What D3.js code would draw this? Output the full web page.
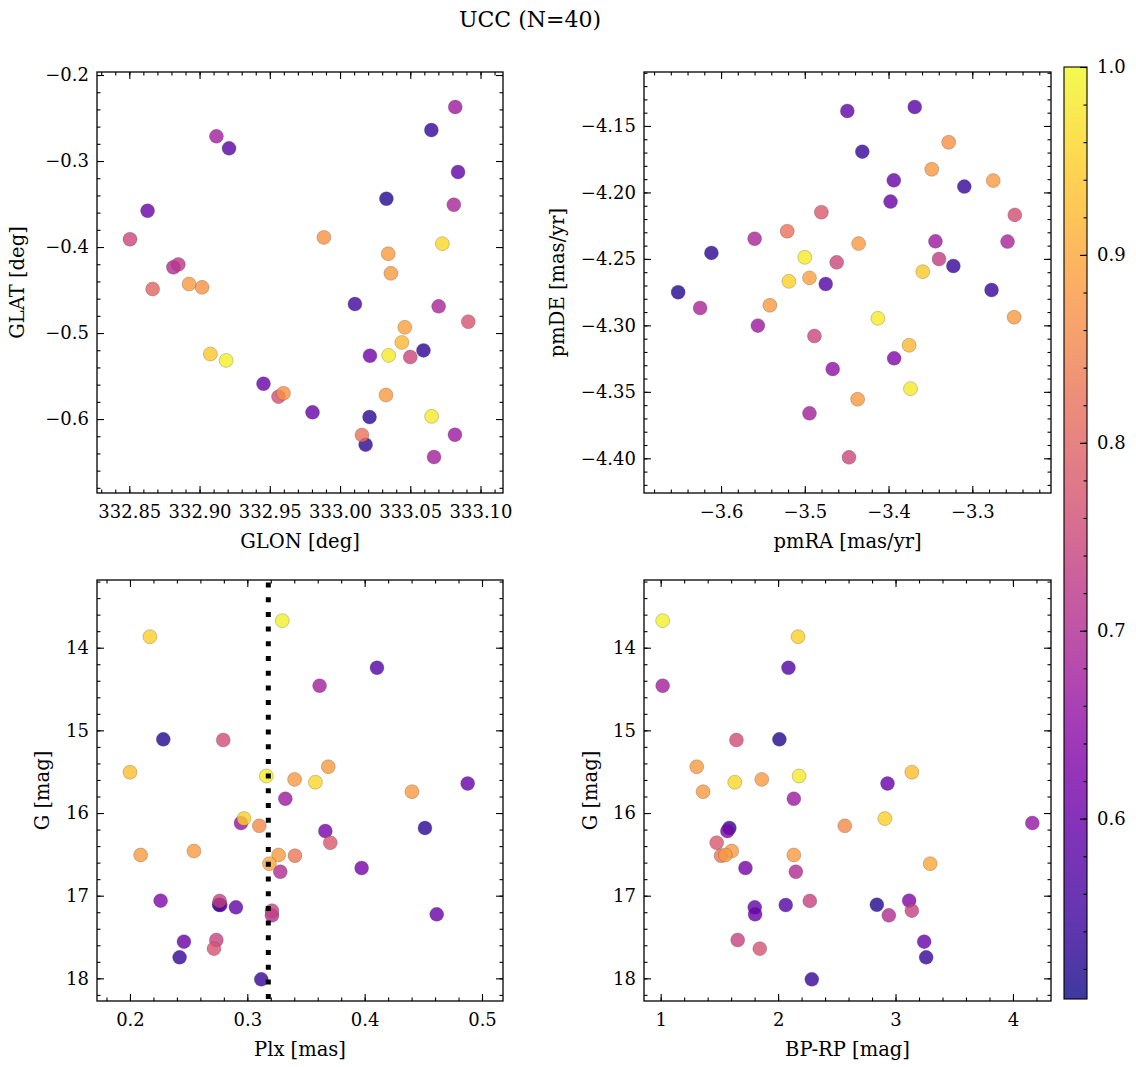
<!DOCTYPE html>
<html><head><meta charset="utf-8">
<script src="https://cdn.jsdelivr.net/npm/d3@7"></script>
<style>body{margin:0;background:#fff}svg{display:block}text{font-family:"DejaVu Serif",serif;fill:#000}</style>
</head><body>
<script>
// ---------- DATA ----------
const title = "UCC (N=40)";
// Panel 1: GLON / GLAT
const glon = [333.082,333.065,332.912,332.921,333.084,333.033,333.081,332.863,332.8505,332.9885,333.0728,333.0343,333.0362,332.8814,332.8849,332.8666,332.8925,332.9018,333.0106,333.0702,333.0913,333.0461,333.044,333.0594,332.9077,332.9189,333.0213,333.0346,333.05,332.9455,332.9562,332.9597,332.9804,333.0327,333.021,333.0652,333.0818,333.0156,333.0182,333.0669];
const glat = [-0.2372,-0.264,-0.2713,-0.2853,-0.3128,-0.3438,-0.3508,-0.3578,-0.391,-0.3888,-0.3961,-0.4078,-0.4306,-0.4236,-0.4202,-0.4488,-0.443,-0.4469,-0.4663,-0.469,-0.4868,-0.4934,-0.5109,-0.5202,-0.5244,-0.5318,-0.5264,-0.526,-0.5279,-0.5589,-0.574,-0.5701,-0.5922,-0.5721,-0.5977,-0.5969,-0.6182,-0.6186,-0.6298,-0.6442];
const probPos = [0.67,0.54,0.68,0.58,0.59,0.52,0.69,0.60,0.75,0.87,0.96,0.88,0.88,0.70,0.72,0.80,0.88,0.87,0.55,0.69,0.77,0.89,0.92,0.53,0.94,0.99,0.61,0.98,0.75,0.60,0.76,0.87,0.60,0.88,0.53,0.98,0.67,0.82,0.53,0.68];
// Panel 2: pmRA / pmDE
const pmra = [-3.4492,-3.3687,-3.3282,-3.4313,-3.3484,-3.3937,-3.3095,-3.275,-3.3976,-3.4802,-3.2492,-3.521,-3.5599,-3.344,-3.2579,-3.4357,-3.6115,-3.5,-3.4619,-3.3397,-3.3226,-3.3591,-3.519,-3.4944,-3.475,-3.6512,-3.277,-3.625,-3.5417,-3.556,-3.25,-3.4127,-3.4885,-3.3754,-3.3933,-3.4667,-3.3738,-3.4369,-3.4944,-3.4472];
const pmde = [-4.1387,-4.1357,-4.1623,-4.1693,-4.1826,-4.1909,-4.1956,-4.1911,-4.2069,-4.2149,-4.2169,-4.2292,-4.2348,-4.2368,-4.237,-4.2385,-4.2455,-4.2488,-4.2526,-4.2501,-4.2553,-4.2596,-4.2669,-4.2643,-4.2689,-4.2751,-4.2734,-4.2869,-4.2849,-4.3002,-4.2939,-4.2947,-4.308,-4.315,-4.3248,-4.3328,-4.3476,-4.3556,-4.3662,-4.3993];
const probPm = [0.59,0.58,0.87,0.54,0.88,0.60,0.54,0.88,0.60,0.78,0.76,0.82,0.69,0.67,0.69,0.88,0.53,0.98,0.75,0.73,0.54,0.94,0.95,0.89,0.57,0.52,0.54,0.69,0.88,0.67,0.88,0.98,0.75,0.92,0.63,0.65,0.98,0.88,0.68,0.75];
// Panels 3 & 4: G, Plx, BP-RP
const gmag = [13.673,13.867,14.242,14.46,15.109,15.117,15.44,15.506,15.552,15.593,15.627,15.643,15.742,15.827,16.067,16.121,16.155,16.181,16.218,16.359,16.46,16.508,16.508,16.516,16.613,16.665,16.71,17.06,17.063,17.109,17.113,17.141,17.181,17.226,17.238,17.536,17.556,17.641,17.746,18.012];
const plx  = [0.3298,0.217,0.4105,0.3616,0.2284,0.2795,0.369,0.200,0.3162,0.3403,0.358,0.4878,0.4403,0.3324,0.2972,0.2946,0.3102,0.4514,0.3665,0.3707,0.2545,0.2091,0.3267,0.3406,0.3188,0.3974,0.3281,0.2261,0.2764,0.2759,0.277,0.2903,0.321,0.4614,0.321,0.2736,0.246,0.2716,0.2423,0.3119];
const bprp = [1.017,2.170,2.088,1.017,2.011,1.645,1.307,3.139,2.179,1.861,1.631,2.932,1.361,2.134,2.909,4.165,2.568,1.585,1.568,1.477,1.605,1.551,2.134,1.514,3.295,1.722,2.151,3.116,2.270,2.841,2.065,1.801,3.139,1.804,2.943,1.656,3.244,1.844,3.261,2.287];
const probPh = [0.99,0.95,0.57,0.68,0.52,0.76,0.88,0.93,0.98,0.88,0.96,0.60,0.88,0.67,0.95,0.66,0.86,0.53,0.62,0.78,0.88,0.88,0.88,0.83,0.90,0.62,0.70,0.63,0.74,0.52,0.57,0.59,0.74,0.60,0.70,0.74,0.60,0.77,0.54,0.54];
const plxLine = 0.3179;
// ticks
const glonTicks = [332.85,332.90,332.95,333.00,333.05,333.10];
const glatTicks = [-0.2,-0.3,-0.4,-0.5,-0.6];
const pmraTicks = [-3.6,-3.5,-3.4,-3.3];
const pmdeTicks = [-4.15,-4.20,-4.25,-4.30,-4.35,-4.40];
const plxTicks = [0.2,0.3,0.4,0.5];
const gTicks = [14,15,16,17,18];
const bprpTicks = [1,2,3,4];
const cbTicks = [0.6,0.7,0.8,0.9,1.0];

// ---------- DRAW ----------
const W=1136,H=1067;
const svg=d3.select("body").append("svg").attr("width",W).attr("height",H);
const fmt = (d,n)=>d3.format("."+n+"f")(d).replace("-","\u2212");
const TS=18, LS=19.5;
const cmin=0.504,cmax=1.0;
const color = d3.scaleSequential(d3.interpolatePlasma).domain([cmin,cmax]);

function minorRange(a,b,step){const out=[];const n=Math.round((b-a)/step);for(let i=0;i<=n;i++){out.push(+(a+i*step).toFixed(6));}return out;}

function panel(o){
  const x=d3.scaleLinear().domain(o.xd).range([o.x0,o.x1]);
  const y=d3.scaleLinear().domain(o.yd).range([o.y1,o.y0]);
  const g=svg.append("g");
  const xMinor=minorRange(Math.ceil(o.xd[0]/o.xm)*o.xm,o.xd[1],o.xm).filter(v=>v>=o.xd[0]&&v<=o.xd[1]);
  const yMinor=minorRange(Math.ceil(Math.min(...o.yd)/o.ym)*o.ym,Math.max(...o.yd),o.ym).filter(v=>v>=Math.min(...o.yd)&&v<=Math.max(...o.yd));
  const style=(s)=>{s.select(".domain").remove();s.selectAll("line").attr("stroke","#000").attr("stroke-width",1.1);s.selectAll("text").style("font-family","DejaVu Serif").style("font-size",TS+"px").attr("fill","#000");};
  // bottom
  g.append("g").attr("transform",`translate(0,${o.y1})`).call(d3.axisBottom(x).tickValues(xMinor).tickSize(-3.5).tickFormat("")).call(style);
  g.append("g").attr("transform",`translate(0,${o.y1})`).call(d3.axisBottom(x).tickValues(o.xt).tickSize(-7).tickPadding(12).tickFormat(d=>fmt(d,o.xf))).call(style);
  // top
  g.append("g").attr("transform",`translate(0,${o.y0})`).call(d3.axisTop(x).tickValues(xMinor).tickSize(-3.5).tickFormat("")).call(style);
  g.append("g").attr("transform",`translate(0,${o.y0})`).call(d3.axisTop(x).tickValues(o.xt).tickSize(-7).tickFormat("")).call(style);
  // left
  g.append("g").attr("transform",`translate(${o.x0},0)`).call(d3.axisLeft(y).tickValues(yMinor).tickSize(-3.5).tickFormat("")).call(style);
  g.append("g").attr("transform",`translate(${o.x0},0)`).call(d3.axisLeft(y).tickValues(o.yt).tickSize(-7).tickPadding(8).tickFormat(d=>fmt(d,o.yf))).call(style);
  // right
  g.append("g").attr("transform",`translate(${o.x1},0)`).call(d3.axisRight(y).tickValues(yMinor).tickSize(-3.5).tickFormat("")).call(style);
  g.append("g").attr("transform",`translate(${o.x1},0)`).call(d3.axisRight(y).tickValues(o.yt).tickSize(-7).tickFormat("")).call(style);
  // points
  const pts=o.xs.map((v,i)=>({x:v,y:o.ys[i],p:o.ps[i]})).sort((a,b)=>a.p-b.p);
  const clipId="clip"+o.id;
  svg.append("clipPath").attr("id",clipId).append("rect").attr("x",o.x0).attr("y",o.y0).attr("width",o.x1-o.x0).attr("height",o.y1-o.y0);
  const pg=g.append("g").attr("clip-path",`url(#${clipId})`);
  pg.selectAll("circle").data(pts).join("circle")
    .attr("cx",d=>x(d.x)).attr("cy",d=>y(d.y)).attr("r",7)
    .attr("fill",d=>color(d.p)).attr("fill-opacity",0.8)
    .attr("stroke","#444").attr("stroke-opacity",0.45).attr("stroke-width",0.6);
  if(o.vline!==undefined){
    pg.append("line").attr("x1",x(o.vline)).attr("x2",x(o.vline)).attr("y1",o.y0+2.5).attr("y2",o.y1)
      .attr("stroke","#000").attr("stroke-width",5).attr("stroke-dasharray","5,9.7");
  }
  // frame
  g.append("rect").attr("x",o.x0).attr("y",o.y0).attr("width",o.x1-o.x0).attr("height",o.y1-o.y0)
    .attr("fill","none").attr("stroke","#000").attr("stroke-width",1.3);
  // labels
  g.append("text").attr("x",(o.x0+o.x1)/2).attr("y",o.y1+55).attr("text-anchor","middle").style("font-size",LS+"px").text(o.xl);
  g.append("text").attr("transform",`translate(${o.ylx},${(o.y0+o.y1)/2}) rotate(-90)`).attr("text-anchor","middle").attr("dy","0.35em").style("font-size",LS+"px").text(o.yl);
}

panel({id:1,x0:97,x1:503,y0:72,y1:493,xd:[332.827,333.116],yd:[-0.686,-0.1965],xt:glonTicks,yt:glatTicks,xm:0.01,ym:0.02,xf:2,yf:1,xs:glon,ys:glat,ps:probPos,xl:"GLON [deg]",yl:"GLAT [deg]",ylx:17});
panel({id:2,x0:644,x1:1051,y0:72,y1:493,xd:[-3.692,-3.206],yd:[-4.4261,-4.1094],xt:pmraTicks,yt:pmdeTicks,xm:0.02,ym:0.01,xf:1,yf:2,xs:pmra,ys:pmde,ps:probPm,xl:"pmRA [mas/yr]",yl:"pmDE [mas/yr]",ylx:557});
panel({id:3,x0:97,x1:503,y0:580,y1:1001,xd:[0.1719,0.5179],yd:[18.274,13.181],xt:plxTicks,yt:gTicks,xm:0.02,ym:0.2,xf:1,yf:0,xs:plx,ys:gmag,ps:probPh,xl:"Plx [mas]",yl:"G [mag]",ylx:42,vline:plxLine});
panel({id:4,x0:644,x1:1051,y0:580,y1:1001,xd:[0.858,4.324],yd:[18.274,13.181],xt:bprpTicks,yt:gTicks,xm:0.2,ym:0.2,xf:0,yf:0,xs:bprp,ys:gmag,ps:probPh,xl:"BP-RP [mag]",yl:"G [mag]",ylx:590});

// title
svg.append("text").attr("x",530).attr("y",27).attr("text-anchor","middle").style("font-size","22px").text(title);

// colorbar
const cb={x0:1064,x1:1087,y0:67,y1:999};
const cy=d3.scaleLinear().domain([cmin,cmax]).range([cb.y1,cb.y0]);
const defs=svg.append("defs");
const grad=defs.append("linearGradient").attr("id","cbgrad").attr("x1","0").attr("y1","1").attr("x2","0").attr("y2","0");
d3.range(0,1.0001,0.02).forEach(t=>grad.append("stop").attr("offset",t).attr("stop-color",d3.interpolatePlasma(t)));
svg.append("rect").attr("x",cb.x0).attr("y",cb.y0).attr("width",cb.x1-cb.x0).attr("height",cb.y1-cb.y0).attr("fill","url(#cbgrad)").attr("fill-opacity",0.8);
const cbMinor=minorRange(0.52,1.0,0.02);
const cbStyle=(s)=>{s.select(".domain").remove();s.selectAll("line").attr("stroke","#000").attr("stroke-width",1.1);s.selectAll("text").style("font-family","DejaVu Serif").style("font-size",TS+"px").attr("fill","#000");};
svg.append("g").attr("transform",`translate(${cb.x1},0)`).call(d3.axisRight(cy).tickValues(cbMinor).tickSize(-3.5).tickFormat("")).call(cbStyle);
svg.append("g").attr("transform",`translate(${cb.x1},0)`).call(d3.axisRight(cy).tickValues(cbTicks).tickSize(-7).tickPadding(10).tickFormat(d=>fmt(d,1))).call(cbStyle);
svg.append("rect").attr("x",cb.x0).attr("y",cb.y0).attr("width",cb.x1-cb.x0).attr("height",cb.y1-cb.y0).attr("fill","none").attr("stroke","#000").attr("stroke-width",1.1);
</script>
</body></html>
